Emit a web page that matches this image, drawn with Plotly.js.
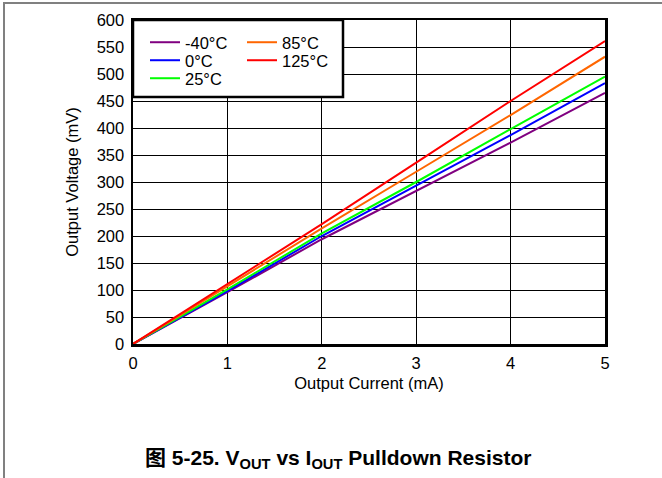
<!DOCTYPE html>
<html>
<head>
<meta charset="utf-8">
<script src="https://cdn.plot.ly/plotly-3.0.1.min.js"></script>
<style>html,body{margin:0;padding:0;background:#fff;}#chart{width:662px;height:478px;}</style>
</head>
<body>
<div id="chart"></div>
<script>
const currentMA = [0, 1, 2, 3, 4, 5];
const seriesNames = ['-40°C', '0°C', '25°C', '85°C', '125°C'];
const vMinus40 = [0, 96, 194, 283, 373, 465];
const v0 = [0, 98, 200, 293, 387, 483];
const v25 = [0, 101, 205, 300, 398, 495];
const v85 = [0, 107, 214, 319, 424, 532];
const v125 = [0, 111, 222, 336, 450, 561];
const seriesColors = ['#800080', '#0000ff', '#00ff00', '#ff6600', '#ff0000'];
const xTicks = [0, 1, 2, 3, 4, 5];
const yTicks = [0, 50, 100, 150, 200, 250, 300, 350, 400, 450, 500, 550, 600];

const seriesValues = [vMinus40, v0, v25, v85, v125];
const legendIds = ['legend', 'legend2', 'legend3', 'legend4', 'legend5'];
const font = 'Liberation Sans, Arial, Helvetica, sans-serif';
const FS = 16.5;

const traces = seriesValues.map((vals, i) => ({
  x: currentMA, y: vals, type: 'scatter', mode: 'lines',
  name: seriesNames[i], legend: legendIds[i],
  line: {color: seriesColors[i], width: 2}
}));

const L = 133, T = 20, W = 472, H = 324;
const px = p => (p - L) / W;
const py = p => (T + H - p) / H;

function legendAt(xp, yp) {
  return {
    x: px(xp), y: py(yp), xanchor: 'left', yanchor: 'top',
    bgcolor: 'rgba(0,0,0,0)', borderwidth: 0,
    font: {family: font, size: FS, color: '#000'},
    tracegroupgap: 0, itemwidth: 30
  };
}

const layout = {
  width: 662, height: 478,
  margin: {l: L, r: 662 - L - W, t: T, b: 478 - T - H},
  paper_bgcolor: '#fff', plot_bgcolor: '#fff',
  font: {family: font, size: FS, color: '#000'},
  xaxis: {
    range: [0, 5], tickvals: xTicks, ticktext: xTicks.map(String),
    showgrid: true, gridcolor: '#000', gridwidth: 1,
    showline: true, linecolor: '#000', linewidth: 2.5, mirror: true,
    zeroline: false, ticks: '', ticklen: 0, ticklabelstandoff: 3,
    tickfont: {family: font, size: FS, color: '#000'},
    title: {text: 'Output Current (mA)', font: {family: font, size: FS, color: '#000'}, standoff: 6},
    automargin: false
  },
  yaxis: {
    range: [0, 600], tickvals: yTicks, ticktext: yTicks.map(String),
    showgrid: true, gridcolor: '#000', gridwidth: 1,
    showline: true, linecolor: '#000', linewidth: 2.5, mirror: true,
    zeroline: false, ticks: '', ticklen: 0, ticklabelstandoff: 3,
    tickfont: {family: font, size: FS, color: '#000'},
    title: {text: 'Output Voltage (mV)', font: {family: font, size: FS, color: '#000'}, standoff: 14},
    automargin: false
  },
  showlegend: true,
  legend: legendAt(145, 25),
  legend2: legendAt(145, 43),
  legend3: legendAt(145, 61),
  legend4: legendAt(242, 25),
  legend5: legendAt(242, 43),
  shapes: [
    {type: 'rect', xref: 'paper', yref: 'paper', x0: px(133), x1: px(343), y0: py(97), y1: py(20),
     fillcolor: '#fff', line: {color: '#000', width: 2.5}, layer: 'above'},
    {type: 'line', xref: 'paper', yref: 'paper', x0: px(3), x1: px(662), y0: py(3), y1: py(3),
     line: {color: '#808080', width: 2}},
    {type: 'line', xref: 'paper', yref: 'paper', x0: px(4), x1: px(4), y0: py(2), y1: py(478),
     line: {color: '#808080', width: 2}}
  ],
  annotations: [
    {xref: 'paper', yref: 'paper', x: px(338), y: py(459), xanchor: 'center', yanchor: 'middle',
     showarrow: false,
     text: '<b>图 5-25. V<sub>OUT</sub> vs I<sub>OUT</sub> Pulldown Resistor</b>',
     font: {family: 'Liberation Sans, Arial, "Noto Sans CJK SC", sans-serif', size: 21, color: '#000'}}
  ]
};

Plotly.newPlot('chart', traces, layout, {displayModeBar: false, staticPlot: true});
</script>
</body>
</html>
